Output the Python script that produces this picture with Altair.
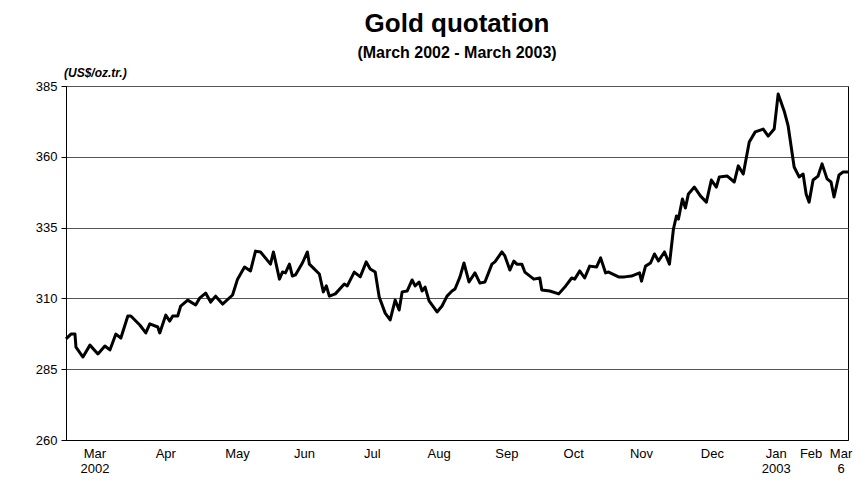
import pandas as pd
import altair as alt

# pixel-read positions along the year (0 = 6 Mar 2002, 784 = 6 Mar 2003) and prices
pos = [0, 5, 9, 10, 17, 24, 32, 39, 44, 50, 55, 62, 65, 74, 80, 84, 92, 94, 100, 104, 107, 112,
       115, 122, 130, 134, 140, 145, 150, 157, 167, 172, 179, 185, 190, 195, 205, 208, 214, 217,
       220, 224, 227, 230, 237, 242, 244, 254, 258, 261, 264, 270, 279, 282, 289, 295, 301, 305,
       310, 314, 320, 325, 330, 334, 337, 342, 347, 350, 354, 357, 360, 364, 372, 377, 382, 387,
       390, 395, 399, 404, 410, 415, 420, 427, 430, 437, 440, 445, 449, 452, 457, 460, 469, 475,
       477, 485, 494, 501, 507, 510, 515, 520, 525, 532, 536, 541, 544, 554, 560, 567, 575, 577,
       581, 586, 590, 594, 600, 605, 609, 612, 614, 618, 621, 624, 630, 636, 642, 647, 652, 655,
       663, 670, 674, 679, 685, 691, 699, 704, 710, 714, 720, 724, 730, 735, 739, 742, 745, 749,
       754, 758, 763, 767, 770, 775, 779, 784]
price = [295.7, 297.4, 297.4, 292.8, 289.3, 293.5, 290.4, 293.2, 291.8, 297.4, 296.0, 303.8, 303.8,
         300.6, 297.8, 301.0, 299.9, 297.8, 304.1, 302.0, 303.8, 303.8, 307.3, 309.4, 307.7, 310.1,
         311.9, 308.7, 310.8, 308.0, 311.2, 316.8, 321.1, 319.7, 326.7, 326.4, 322.1, 326.4, 316.8,
         319.3, 319.0, 322.1, 317.9, 318.3, 322.5, 326.4, 322.1, 318.6, 312.3, 314.4, 310.8, 311.6,
         315.1, 314.4, 319.3, 317.6, 322.9, 320.4, 319.3, 310.5, 304.8, 302.4, 309.4, 305.9, 312.3,
         312.6, 316.5, 314.4, 315.8, 312.6, 314.0, 309.1, 305.2, 307.3, 310.8, 312.6, 313.3, 317.6,
         322.5, 315.8, 319.0, 315.4, 315.8, 322.1, 322.9, 326.4, 325.0, 320.0, 323.2, 322.1, 322.1,
         319.3, 316.8, 317.2, 313.0, 312.6, 311.6, 314.4, 317.2, 316.8, 319.7, 317.2, 321.4, 321.1,
         324.3, 319.0, 319.3, 317.6, 317.6, 317.9, 319.0, 316.1, 321.4, 322.5, 325.7, 323.2, 326.4,
         322.1, 334.5, 339.1, 338.0, 345.1, 341.9, 346.9, 349.3, 346.2, 344.0, 351.8, 349.3, 352.9,
         353.2, 351.1, 356.8, 353.9, 365.2, 368.8, 369.8, 367.3, 369.8, 382.2, 376.2, 370.9, 356.4,
         352.9, 353.9, 346.9, 344.0, 351.8, 353.2, 357.5, 352.2, 351.1, 345.8, 353.6, 354.6]
price = price + [354.6] * (len(pos) - len(price))
price = price[:len(pos)]

month_pos = [29, 100, 172, 239, 307, 374, 442, 509, 577, 648, 712, 747, 777]
month_lbl = ["Mar\n2002", "Apr", "May", "Jun", "Jul", "Aug", "Sep", "Oct", "Nov", "Dec",
             "Jan\n2003", "Feb", "Mar\n6"]
y_ticks = [260, 285, 310, 335, 360, 385]

FONT = "Liberation Sans"
df = pd.DataFrame({"t": pos, "price": price})
months = pd.DataFrame({"t": month_pos, "label": month_lbl})

xs = alt.Scale(domain=[0, 784], nice=False)
ys = alt.Scale(domain=[260, 385], nice=False)

line = alt.Chart(df).mark_line(color="black", strokeWidth=3, strokeJoin="round").encode(
    x=alt.X("t:Q", scale=xs, axis=alt.Axis(labels=False, ticks=False, grid=False, title=None,
                                           domainColor="black")),
    y=alt.Y("price:Q", scale=ys,
            axis=alt.Axis(values=y_ticks, title=None, grid=True, gridColor="#555",
                          gridWidth=1, domainColor="black", tickColor="black",
                          labelFont=FONT, labelFontSize=13, labelColor="black",
                          labelPadding=4, tickSize=5))
)

labels = alt.Chart(months).mark_text(
    font=FONT, fontSize=13, baseline="top", lineBreak="\n", color="black"
).encode(
    x=alt.X("t:Q", scale=xs),
    y=alt.value(362),
    text="label:N"
)

unit = alt.Chart(months.head(1)).mark_text(
    font=FONT, fontSize=12, fontStyle="italic", fontWeight="bold", align="left", color="black"
).encode(
    x=alt.value(-2),
    y=alt.value(-13),
    text=alt.value("(US$/oz.tr.)")
)

chart = (line + labels + unit).properties(
    width=782,
    height=354,
    title=alt.TitleParams("Gold quotation", subtitle="(March 2002 - March 2003)",
                          font=FONT, fontSize=26, fontWeight="bold", color="black",
                          subtitleFont=FONT, subtitleFontSize=16, subtitleFontWeight="bold",
                          subtitleColor="black", subtitlePadding=8, anchor="middle", offset=6),
    padding={"left": 27, "top": 3, "right": 0, "bottom": 0}
).configure_view(stroke="black", strokeWidth=1)

chart.save("out.html", embed_options={"renderer": "svg", "actions": False})
